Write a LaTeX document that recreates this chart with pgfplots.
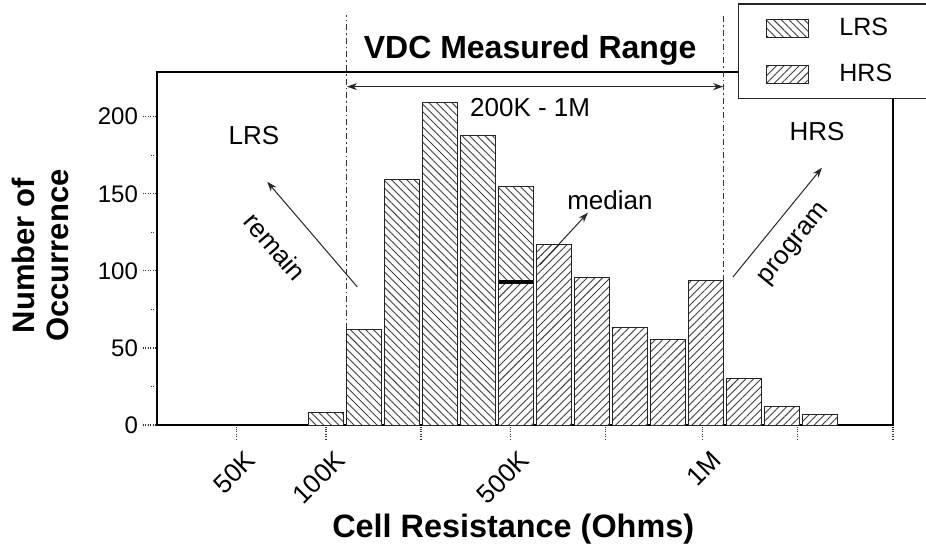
\documentclass[border=0pt]{standalone}
\usepackage{fontspec}
\setmainfont{Liberation Sans}
\usepackage{pgfplots}
\pgfplotsset{compat=1.18}
\usetikzlibrary{patterns.meta,arrows.meta}

\tikzset{
  lrs/.style={draw=black!85, line width=0.5pt, fill=white,
    postaction={pattern={Lines[angle=-45,distance=2.7pt,line width=0.45pt]}, pattern color=black!75}},
  hrs/.style={draw=black!85, line width=0.5pt, fill=white,
    postaction={pattern={Lines[angle=45,distance=2.7pt,line width=0.45pt]}, pattern color=black!75}},
  ann/.style={font=\fontsize{13}{15}\selectfont},
  annarrow/.style={-{Stealth[length=5pt,width=3.5pt]}, line width=0.5pt, black!85},
}
\pgfplotsset{
  boxlegend/.style={legend image code/.code={\draw[##1] (0pt,-4.5pt) rectangle (21pt,4.5pt); \path (34pt,0pt);}},
}

\begin{document}
\begin{tikzpicture}
\useasboundingbox (0,0) rectangle (463pt,276pt);
\begin{axis}[
  at={(78.5pt,63.5pt)}, anchor=south west,
  scale only axis, width=368pt, height=176.5pt,
  xmin=-3.45, xmax=15.92, ymin=0, ymax=229,
  axis line style={line width=1.4pt},
  tick align=outside,
  tick style={densely dotted, black!80, line width=0.6pt},
  major tick length=7pt, minor tick length=3pt,
  xtick={-1.35,1,3.5,5.85,8.35,10.9,13.4,15.92},
  xticklabels={50K,100K,,500K,,1M,,},
  ytick={0,50,100,150,200},
  minor ytick={25,75,125,175},
  xtick pos=bottom, ytick pos=left,
  /pgf/number format/assume math mode=true,
  ticklabel style={font=\fontsize{12}{14}\selectfont},
  yticklabel style={xshift=1pt},
  xticklabel style={font=\fontsize{13}{15}\selectfont, rotate=45, anchor=east, xshift=2.5pt, yshift=-11pt},
  xlabel={Cell Resistance (Ohms)},
  xlabel style={font=\bfseries\fontsize{16.2}{18}\selectfont, at={(axis description cs:0.484,-0.295)}, anchor=center},
  ylabel={Number of\\Occurrence},
  ylabel style={align=center, font=\bfseries\fontsize{15.5}{17}\selectfont, at={(axis description cs:-0.158,0.48)}, anchor=center},
  clip=false,
  legend style={at={(rel axis cs:0.789,1.195)}, anchor=north west, draw=black!85, line width=0.7pt, fill=white,
    inner xsep=14pt, inner ysep=5pt, row sep=9pt, font=\fontsize{12.5}{14}\selectfont, cells={anchor=west}},
]
\addplot[ybar, bar width=0.9, bar shift=0pt, lrs, boxlegend]
  coordinates {(1,8) (2,62) (3,159) (4,209) (5,188) (6,155)};
\addlegendentry{\makebox[60pt][l]{LRS}}
\addplot[ybar, bar width=0.9, bar shift=0pt, hrs, boxlegend]
  coordinates {(6,92.5) (7,117) (8,96) (9,63) (10,55.5) (11,93.5) (12,30) (13,12) (14,7)};
\addlegendentry{\makebox[60pt][l]{HRS}}
\addplot[line width=2pt, black, forget plot] coordinates {(5.55,92.5) (6.45,92.5)};

% VDC measured range
\draw[black!80, line width=0.5pt, dash pattern=on 3pt off 1.5pt on 0.8pt off 1.5pt] (axis cs:1.55,62) -- (axis cs:1.55,266);
\draw[black!80, line width=0.5pt, dash pattern=on 3pt off 1.5pt on 0.8pt off 1.5pt] (axis cs:11.45,93.5) -- (axis cs:11.45,266);
\node[font=\bfseries\fontsize{16}{18}\selectfont] at (axis cs:6.37,243) {VDC Measured Range};
\draw[{Stealth[length=5pt,width=3.5pt]}-{Stealth[length=5pt,width=3.5pt]}, line width=0.5pt, black!85] (axis cs:1.55,219.5) -- (axis cs:11.45,219.5);
\node[ann] at (axis cs:6.37,206) {200K - 1M};

% LRS side
\node[ann] at (axis cs:-0.9,188) {LRS};
\draw[annarrow] (axis cs:1.82,89.6) -- (axis cs:-0.55,157.8);
\node[ann, rotate=-49] at (axis cs:-0.34,115.6) {remain};

% HRS side
\node[ann] at (axis cs:13.92,190.3) {HRS};
\draw[annarrow] (axis cs:11.71,96.1) -- (axis cs:14.05,166.9);
\node[ann, rotate=51] at (axis cs:13.34,116.9) {program};

% median
\node[ann] at (axis cs:8.47,146) {median};
\draw[annarrow] (axis cs:6.63,104) -- (axis cs:7.89,137.7);
\end{axis}
\end{tikzpicture}
\end{document}
